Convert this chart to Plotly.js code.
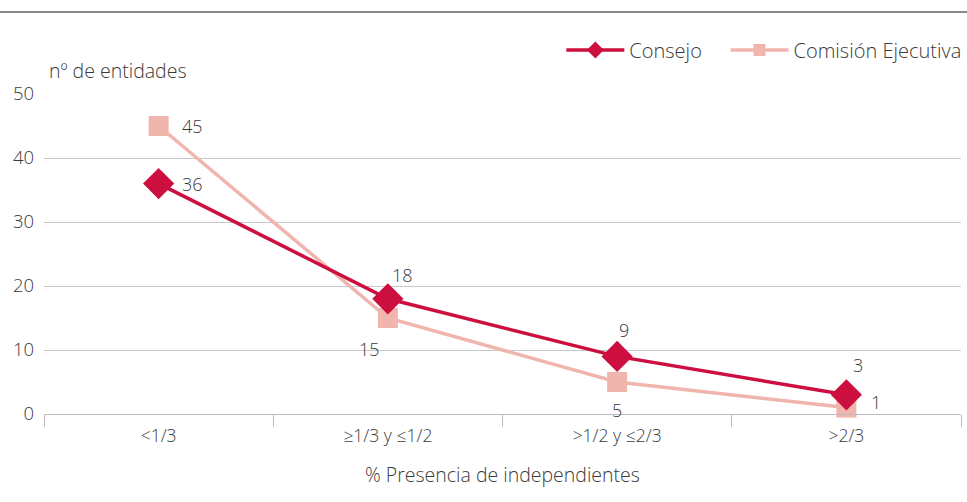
<!DOCTYPE html>
<html><head><meta charset="utf-8">
<script src="https://cdn.plot.ly/plotly-3.0.1.min.js"></script>
<style>html,body{margin:0;padding:0;background:#fff}#c{width:967px;height:502px}</style>
</head><body><div id="c"></div>
<script>
const categories = ["<1/3", "≥1/3 y ≤1/2", ">1/2 y ≤2/3", ">2/3"];
const consejo = [36, 18, 9, 3];
const comision = [45, 15, 5, 1];
const yTicks = [0, 10, 20, 30, 40, 50];

const FAM = "Open Sans, sans-serif";
const TXT = "#3a3a3a";
const f = (size) => ({family: FAM, size: size, color: TXT, weight: 300});

const RED = "#cc0f3f", PINK = "#f0b6ae";

// label offsets (px) relative to each point
const consejoShift = [[34, 0], [15, 24], [7, 26], [12, 30]];
const comisionShift = [[34, 0], [-18, -31], [0, -28], [30, 6]];

const traces = [
  {
    x: categories, y: comision, name: "Comisión Ejecutiva", type: "scatter", mode: "lines+markers",
    line: {color: PINK, width: 3.5},
    marker: {symbol: "square", size: 20, color: PINK},
    cliponaxis: false, showlegend: false
  },
  {
    x: categories, y: consejo, name: "Consejo", type: "scatter", mode: "lines+markers",
    line: {color: RED, width: 3.5},
    marker: {symbol: "diamond", size: 24, color: RED},
    cliponaxis: false, showlegend: false
  },
  // legend entries (smaller symbols, as in the reference legend)
  {x: [null], y: [null], name: "Consejo", type: "scatter", mode: "lines+markers", legend: "legend2",
   line: {color: RED, width: 3.5}, marker: {symbol: "diamond", size: 13, color: RED}},
  {x: [null], y: [null], name: "Comisión Ejecutiva", type: "scatter", mode: "lines+markers", legend: "legend",
   line: {color: PINK, width: 3.5}, marker: {symbol: "square", size: 12, color: PINK}}
];

const labelAnn = [];
categories.forEach((c, i) => {
  labelAnn.push({x: c, y: consejo[i], text: String(consejo[i]), showarrow: false,
    xshift: consejoShift[i][0], yshift: consejoShift[i][1], font: f(18)});
  labelAnn.push({x: c, y: comision[i], text: String(comision[i]), showarrow: false,
    xshift: comisionShift[i][0], yshift: comisionShift[i][1], font: f(18)});
});

const legendBase = {orientation: "h", xanchor: "right", y: 1.1375, yanchor: "middle",
                    font: f(20), itemwidth: 58, bgcolor: "rgba(0,0,0,0)"};

const layout = {
  width: 967, height: 502,
  margin: {l: 44, r: 1, t: 94, b: 88},
  paper_bgcolor: "#fff", plot_bgcolor: "#fff",
  font: f(17),
  showlegend: true,
  legend: Object.assign({}, legendBase, {x: 1.006}),
  legend2: Object.assign({}, legendBase, {x: 0.7234}),
  xaxis: {
    type: "category", categoryarray: categories, categoryorder: "array",
    showgrid: false, showline: true, linecolor: "#bdbdbd", linewidth: 1,
    tickson: "boundaries", ticks: "outside", ticklen: 12, tickcolor: "#bdbdbd",
    tickfont: f(17.5), zeroline: false, ticklabelstandoff: 6,
    range: [-0.5, 3.5]
  },
  yaxis: {
    range: [0, 50], tickvals: yTicks, showgrid: true, gridcolor: "#c8c8c8", gridwidth: 1,
    zeroline: false, showline: false, ticks: "", ticklabelstandoff: 9,
    tickfont: f(18.5)
  },
  shapes: [
    {type: "line", xref: "paper", yref: "paper", x0: -0.05, x1: 1.01, y0: 1.256, y1: 1.256,
     line: {color: "#8a8a8a", width: 2}}
  ],
  annotations: [
    {text: "nº de entidades", xref: "paper", yref: "paper", x: 0.003, y: 1.075,
     xanchor: "left", yanchor: "middle", showarrow: false, font: f(19.5)},
    {text: "% Presencia de independientes", xref: "paper", yref: "paper", x: 0.5, y: -0.19,
     xanchor: "center", yanchor: "middle", showarrow: false, font: f(19.5)}
  ].concat(labelAnn)
};
Plotly.newPlot("c", traces, layout, {displayModeBar: false, staticPlot: true});
</script></body></html>
